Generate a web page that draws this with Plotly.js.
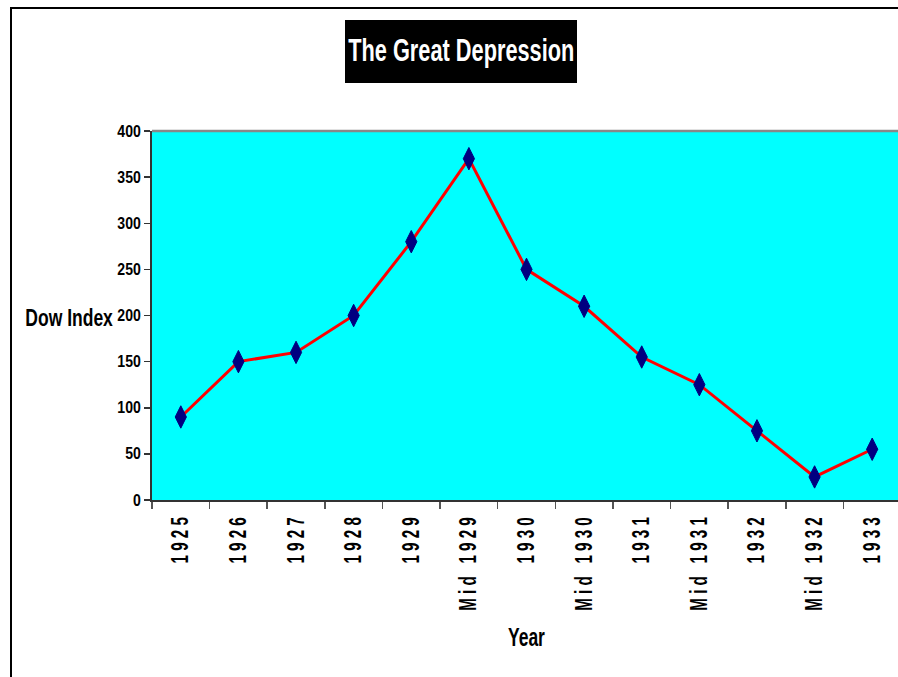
<!DOCTYPE html>
<html>
<head>
<meta charset="utf-8">
<script src="https://cdn.plot.ly/plotly-3.0.1.min.js"></script>
<style>
  html, body { margin: 0; padding: 0; background: #fff; overflow: hidden; }
  #wrap { position: relative; width: 898px; height: 677px; overflow: hidden; }
  #chart { position: absolute; left: 0; top: 0; width: 901px; height: 677px; }
  #frame { position: absolute; left: 10px; top: 7px; width: 900px; height: 700px;
           border-left: 2px solid #000; border-top: 2px solid #000; pointer-events: none; }
</style>
</head>
<body>
<div id="wrap">
  <div id="chart"></div>
  <div id="frame"></div>
</div>
<script>
const categories = ["1925", "1926", "1927", "1928", "1929", "Mid 1929", "1930",
                    "Mid 1930", "1931", "Mid 1931", "1932", "Mid 1932", "1933"];
const dowIndex = [90, 150, 160, 200, 280, 370, 250, 210, 155, 125, 75, 25, 55];
const yTicks = [0, 50, 100, 150, 200, 250, 300, 350, 400];

const FONT = "'Liberation Sans', Arial, sans-serif";
const spaced = categories.map(c => c.split('').join(' '));

// plot area in pixels: left 152, top 131, width 749, height 369
const PL = 152, PT = 131, PW = 749, PH = 369;
const px = x => (x - PL) / PW;
const py = y => (PT + PH - y) / PH;

const trace = {
  type: 'scatter',
  mode: 'lines+markers',
  x: categories,
  y: dowIndex,
  line: { color: '#ff0000', width: 3 },
  marker: { symbol: 'diamond-tall', size: 16, color: '#000080',
            line: { color: '#000080', width: 1 } },
  hoverinfo: 'x+y'
};

const layout = {
  width: 901, height: 677,
  margin: { l: PL, r: 0, t: PT, b: 677 - PT - PH },
  paper_bgcolor: 'rgba(0,0,0,0)',
  plot_bgcolor: '#00ffff',
  showlegend: false,
  font: { family: FONT, color: '#000' },
  xaxis: {
    type: 'category',
    tickmode: 'array',
    tickvals: categories,
    ticktext: spaced,
    tickson: 'boundaries',
    ticks: 'outside', ticklen: 7, tickcolor: '#555', tickwidth: 1.5,
    tickangle: -90,
    tickfont: { family: FONT, size: 23, color: '#000', weight: 'bold' },
    showline: true, linecolor: '#333', linewidth: 2,
    showgrid: false, zeroline: false,
    range: [-0.5, 12.5]
  },
  yaxis: {
    range: [0, 400],
    tickmode: 'array',
    tickvals: yTicks,
    ticks: 'outside', ticklen: 6, tickcolor: '#333', tickwidth: 1.5,
    tickfont: { family: FONT, size: 16, color: '#000', weight: 'bold' },
    showline: true, linecolor: '#333', linewidth: 2,
    showgrid: false, zeroline: false
  },
  shapes: [
    { type: 'line', xref: 'paper', yref: 'paper', x0: 0, x1: 1, y0: 1, y1: 1,
      line: { color: '#888', width: 2.5 } },
    { type: 'rect', xref: 'paper', yref: 'paper',
      x0: px(345), x1: px(577), y0: py(83), y1: py(20),
      fillcolor: '#000', line: { width: 0 } }
  ],
  annotations: [
    { text: '<b>The Great Depression</b>', xref: 'paper', yref: 'paper',
      x: px(461), y: py(50), xanchor: 'center', yanchor: 'middle', showarrow: false,
      font: { family: FONT, size: 32, color: '#fff' } },
    { text: '<b>Dow Index</b>', xref: 'paper', yref: 'paper',
      x: px(69.5), y: py(317), xanchor: 'center', yanchor: 'middle', showarrow: false,
      font: { family: FONT, size: 24, color: '#000' } },
    { text: '<b>Year</b>', xref: 'paper', yref: 'paper',
      x: px(526), y: py(637), xanchor: 'center', yanchor: 'middle', showarrow: false,
      font: { family: FONT, size: 25, color: '#000' } }
  ]
};

// horizontally condense an svg text element around its anchor point (local coords)
function condense(el, sx, shift) {
  const bb = el.getBBox();
  const anchor = el.getAttribute('text-anchor') || 'start';
  let ax = bb.x + bb.width / 2;
  if (anchor === 'end') ax = bb.x + bb.width;
  else if (anchor === 'start') ax = bb.x;
  const t = el.getAttribute('transform') || '';
  el.setAttribute('transform', t + ' translate(' + (ax + (shift || 0)) + ',0) scale(' + sx + ',1) translate(' + (-ax) + ',0)');
}

Plotly.newPlot('chart', [trace], layout, { displayModeBar: false, staticPlot: true }).then(gd => {
  const annSx = [0.68, 0.73, 0.7];
  gd.querySelectorAll('.annotation-text').forEach((el, i) => condense(el, annSx[i] || 0.7, 0));
  gd.querySelectorAll('.xtick text').forEach(el => condense(el, 0.66, -6));
  gd.querySelectorAll('.ytick text').forEach(el => condense(el, 0.88, 0));
});
</script>
</body>
</html>
